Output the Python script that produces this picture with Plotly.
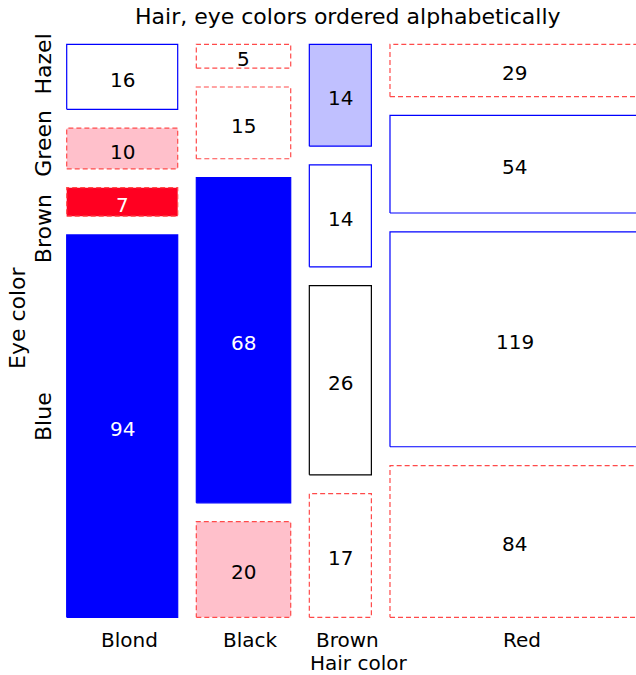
import numpy as np
import plotly.graph_objects as go

# Hair colour columns (left to right) and eye colour rows (bottom to top)
hair = ["Blond", "Black", "Brown", "Red"]
eye = ["Blue", "Brown", "Green", "Hazel"]

# Counts in each column, listed bottom to top
blond_counts = [94, 7, 10, 16]
black_counts = [20, 68, 15, 5]
brown_counts = [17, 26, 14, 14]
red_counts = [84, 119, 54, 29]

# Where the eye-colour labels sit on the vertical axis (proportion units)
eye_label_pos = [0.382, 0.746, 0.911, 1.065]

table = np.array([blond_counts, black_counts, brown_counts, red_counts], dtype=float)

# Mosaic geometry
GAP_X = 21.3          # gap between columns, in count units
GAP_Y = 0.0364        # gap between tiles in a column, in proportion units
PX_PER_COUNT = 0.874
PX_PER_UNIT = 516.6

W, H = 636, 675
ML, MR, MT, MB = 66, 0, 43, 57
X0_PX, Y0_PX = 66.7, 617.3

# Pearson residuals drive the shading
n = table.sum()
expected = np.outer(table.sum(axis=1), table.sum(axis=0)) / n
resid = (table - expected) / np.sqrt(expected)


def style(r):
    if abs(r) < 0.1:
        return "white", "black", "solid", "black"
    if r > 0:
        fill = "#0000ff" if r > 4 else ("#c0c0ff" if r > 2 else "white")
        return fill, "#0000ff", "solid", ("white" if r > 4 else "black")
    fill = "#ff0021" if r < -4 else ("#ffc0cb" if r < -2 else "white")
    return fill, "#ff4a4a", "5px,3px", ("white" if r < -4 else "black")


fig = go.Figure()
annotations = []
col_totals = table.sum(axis=1)
x_left = 0.0
col_centers = []
for i, h in enumerate(hair):
    w = col_totals[i]
    x_right = x_left + w
    col_centers.append((x_left + x_right) / 2)
    y_bot = 0.0
    for j, e in enumerate(eye):
        hgt = table[i, j] / col_totals[i]
        y_top = y_bot + hgt
        fill, line_col, dash, txt_col = style(resid[i, j])
        fig.add_trace(go.Scatter(
            x=[x_left, x_right, x_right, x_left, x_left],
            y=[y_bot, y_bot, y_top, y_top, y_bot],
            mode="lines", fill="toself", fillcolor=fill,
            line=dict(color=line_col, width=1.2, dash=dash),
            hoverinfo="skip", showlegend=False,
        ))
        # cell count, centred in its tile
        annotations.append(dict(
            text=str(int(table[i, j])), x=(x_left + x_right) / 2,
            y=(y_bot + y_top) / 2, xref="x", yref="y", yshift=-3,
            showarrow=False, xanchor="center", yanchor="middle",
            font=dict(family="DejaVu Sans", size=20, color=txt_col)))
        y_bot = y_top + GAP_Y
    x_left = x_right + GAP_X

plot_w = W - ML - MR
plot_h = H - MT - MB
x_start = -(X0_PX - ML) / PX_PER_COUNT
y_start = -((H - MB) - Y0_PX) / PX_PER_UNIT

font = dict(family="DejaVu Sans", size=22, color="black")
small = dict(family="DejaVu Sans", size=20, color="black")


def py(px):
    # vertical pixel position -> paper coordinate of the plot area
    return (H - MB - px) / plot_h


def pxx(px):
    return (px - ML) / plot_w


annotations += [
    dict(text="Hair, eye colors ordered alphabetically", xref="paper", yref="paper",
         x=pxx(348), y=py(17), showarrow=False,
         xanchor="center", yanchor="middle", font=font),
    dict(text="Hair color", xref="paper", yref="paper",
         x=pxx(358), y=py(663), showarrow=False,
         xanchor="center", yanchor="middle", font=small),
    dict(text="Eye color", xref="paper", yref="paper", textangle=-90,
         x=pxx(17), y=py(318), showarrow=False,
         xanchor="center", yanchor="middle", font=font),
]
# Hair-colour labels under each column
for c, name in zip(col_centers, hair):
    annotations.append(dict(text=name, x=c, xref="x", yref="paper", y=py(640),
                            xshift=7, showarrow=False, xanchor="center",
                            yanchor="middle", font=small))

fig.update_layout(
    width=W, height=H,
    margin=dict(l=ML, r=MR, t=MT, b=MB),
    plot_bgcolor="white", paper_bgcolor="white",
    font=font,
    xaxis=dict(range=[x_start, x_start + plot_w / PX_PER_COUNT],
               showticklabels=False, ticks="",
               showgrid=False, zeroline=False, showline=False),
    yaxis=dict(range=[y_start, y_start + plot_h / PX_PER_UNIT],
               tickvals=eye_label_pos, ticktext=eye, tickangle=-90, ticks="",
               showgrid=False, zeroline=False, showline=False,
               ticklabelstandoff=10, tickfont=font),
    annotations=annotations,
)

fig.write_html("out.html")
